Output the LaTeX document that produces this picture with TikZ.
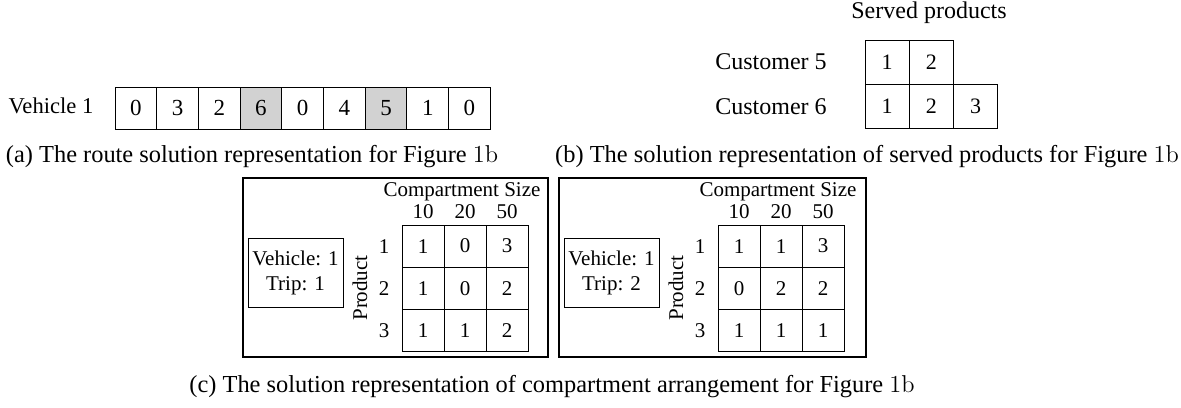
\documentclass[tikz,border=0pt]{standalone}
\usepackage{fontspec}
\setmainfont{Liberation Serif}
\usepackage{xcolor}
\usetikzlibrary{positioning}
\newcommand{\figref}{{\fontfamily{lmr}\selectfont 1b}}

\begin{document}
\begin{tikzpicture}[
    x=0.5pt, y=-0.5pt,
    font=\fontsize{12}{14}\selectfont,
    route_cell/.style={draw, line width=0.5pt, minimum width=20.85pt, minimum height=21pt, inner sep=0pt, outer sep=0pt, font=\fontsize{11.5}{14}\selectfont},
    route_shaded/.style={route_cell, fill=gray!35},
    served_cell/.style={draw, line width=0.5pt, minimum width=22.1pt, minimum height=22pt, inner sep=0pt, outer sep=0pt, font=\fontsize{11}{14}\selectfont},
    comp_text/.style={font=\fontsize{10.5}{12.5}\selectfont},
    comp_cell/.style={comp_text, draw, line width=0.5pt, minimum width=21pt, minimum height=21.1pt, inner sep=0pt, outer sep=0pt},
    trip_box/.style={comp_text, draw, line width=0.5pt, minimum width=47.5pt, minimum height=34.5pt, align=center, inner sep=0pt, outer sep=0pt},
    frame_box/.style={draw, line width=0.6pt},
    caption_text/.style={font=\fontsize{12.2}{14}\selectfont}
]
\useasboundingbox (0,0) rectangle (1181,407);

% (a) ROUTE
\node[font=\fontsize{11.3}{14}\selectfont] (veh) at (51,106) {Vehicle 1};
\foreach \v/\s [count=\i] in {0/route_cell, 3/route_cell, 2/route_cell, 6/route_shaded, 0/route_cell, 4/route_cell, 5/route_shaded, 1/route_cell, 0/route_cell} {
    \node[\s] (r\i) at ({115+41.7*(\i-0.5)},108) {\v};
}
\node[caption_text] (cap_a) at (252,157) {(a) The route solution representation for Figure \figref};

% (b) SERVED PRODUCTS
\node (served) at (929,13) {Served products};
\node (cust5) at (771,62) {Customer 5};
\node (cust6) at (771,107) {Customer 6};
\foreach \v [count=\i] in {1,2} {
    \node[served_cell] (s5\i) at ({865+44.2*(\i-0.5)},62) {\v};
}
\foreach \v [count=\i] in {1,2,3} {
    \node[served_cell] (s6\i) at ({865+44.2*(\i-0.5)},106) {\v};
}
\node[caption_text] (cap_b) at (867,157) {(b) The solution representation of served products for Figure \figref};

% (c) COMPARTMENTS, TRIP 1
\draw[frame_box] (243,178) rectangle (548,357);
\node[trip_box] (trip1) at (295.5,272.5) {Vehicle: 1\\Trip: 1};
\node[comp_text, rotate=90] (prod1) at (360,288) {Product};
\node[comp_text] (size1) at (462,192) {Compartment Size};
\foreach \h [count=\j] in {10,20,50} {
    \node[comp_text] (h1\j) at ({402+42*(\j-0.5)},212) {\h};
}
\foreach \a/\b/\c [count=\i] in {1/0/3, 1/0/2, 1/1/2} {
    \node[comp_text] (p1\i) at (384,{225+42.2*(\i-0.5)}) {\i};
    \node[comp_cell] (c1\i1) at (423,{225+42.2*(\i-0.5)}) {\a};
    \node[comp_cell] (c1\i2) at (465,{225+42.2*(\i-0.5)}) {\b};
    \node[comp_cell] (c1\i3) at (507,{225+42.2*(\i-0.5)}) {\c};
}

% (c) COMPARTMENTS, TRIP 2
\draw[frame_box] (559,178) rectangle (866,357);
\node[trip_box] (trip2) at (611.5,272.5) {Vehicle: 1\\Trip: 2};
\node[comp_text, rotate=90] (prod2) at (676,288) {Product};
\node[comp_text] (size2) at (778,192) {Compartment Size};
\foreach \h [count=\j] in {10,20,50} {
    \node[comp_text] (h2\j) at ({718+42*(\j-0.5)},212) {\h};
}
\foreach \a/\b/\c [count=\i] in {1/1/3, 0/2/2, 1/1/1} {
    \node[comp_text] (p2\i) at (700,{225+42.2*(\i-0.5)}) {\i};
    \node[comp_cell] (c2\i1) at (739,{225+42.2*(\i-0.5)}) {\a};
    \node[comp_cell] (c2\i2) at (781,{225+42.2*(\i-0.5)}) {\b};
    \node[comp_cell] (c2\i3) at (823,{225+42.2*(\i-0.5)}) {\c};
}
\node[caption_text] (cap_c) at (552,387) {(c) The solution representation of compartment arrangement for Figure \figref};

\end{tikzpicture}
\end{document}
